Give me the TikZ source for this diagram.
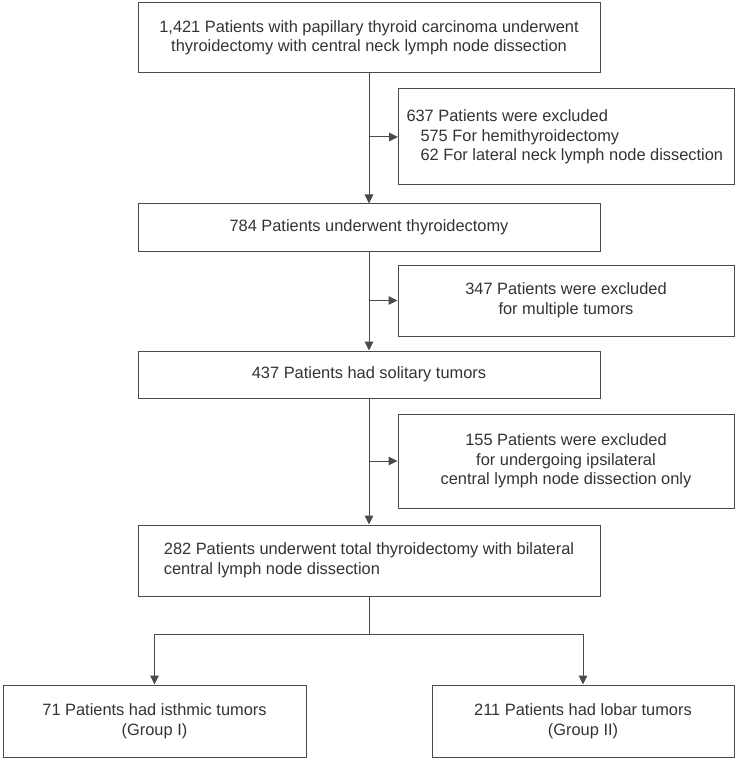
\documentclass[tikz,border=0pt]{standalone}
\usepackage{fontspec}
\setmainfont{Liberation Sans}
\usetikzlibrary{arrows.meta}
\definecolor{txtgray}{HTML}{333333}
\definecolor{linegray}{HTML}{4A4A4A}
\tikzset{
  flowbox/.style={draw=linegray,line width=1pt,text=txtgray,font=\fontsize{16.4}{19.5}\selectfont,align=center,inner sep=0pt},
  flowarrow/.style={draw=linegray,line width=1pt,-{Triangle[length=9pt,width=8.5pt]}},
}
\begin{document}
\begin{tikzpicture}[x=1pt,y=-1pt]
  \useasboundingbox (0,0) rectangle (735,759);
  \node[flowbox,minimum width=462,minimum height=70] (start) at (369,38) {1,421 Patients with papillary thyroid carcinoma underwent\\thyroidectomy with central neck lymph node dissection};
  \node[flowbox,minimum width=336,minimum height=96,align=left,anchor=west] (excla) at (398,137) {\makebox[320pt][l]{637 Patients were excluded}\\\hspace*{14pt}575 For hemithyroidectomy\\\hspace*{14pt}62 For lateral neck lymph node dissection};
  \node[flowbox,minimum width=462,minimum height=47] (thyr) at (369,227.5) {784 Patients underwent thyroidectomy};
  \node[flowbox,minimum width=336,minimum height=71] (exclb) at (566,300.5) {347 Patients were excluded\\for multiple tumors};
  \node[flowbox,minimum width=462,minimum height=47] (solit) at (369,374.5) {437 Patients had solitary tumors};
  \node[flowbox,minimum width=336,minimum height=94] (exclc) at (566,461) {155 Patients were excluded\\for undergoing ipsilateral\\central lymph node dissection only};
  \node[flowbox,minimum width=462,minimum height=71,align=left] (total) at (369,560.5) {282 Patients underwent total thyroidectomy with bilateral\\central lymph node dissection};
  \node[flowbox,minimum width=303,minimum height=72] (isth) at (154.5,721) {71 Patients had isthmic tumors\\(Group I)};
  \node[flowbox,minimum width=302,minimum height=72] (lobar) at (583,721) {211 Patients had lobar tumors\\(Group II)};
  % main flow
  \draw[flowarrow] (start) -- (thyr);
  \draw[flowarrow] (thyr) -- (solit);
  \draw[flowarrow] (solit) -- (total);
  % exclusions
  \coordinate (ja) at (369,137);
  \coordinate (jb) at (369,300.5);
  \coordinate (jc) at (369,461);
  \draw[flowarrow] (ja) -- (excla);
  \draw[flowarrow] (jb) -- (exclb);
  \draw[flowarrow] (jc) -- (exclc);
  % split into groups
  \coordinate (split) at (369,634);
  \draw[flowarrow] (total) -- (split) -| (isth);
  \draw[flowarrow] (split) -| (lobar);
\end{tikzpicture}
\end{document}
